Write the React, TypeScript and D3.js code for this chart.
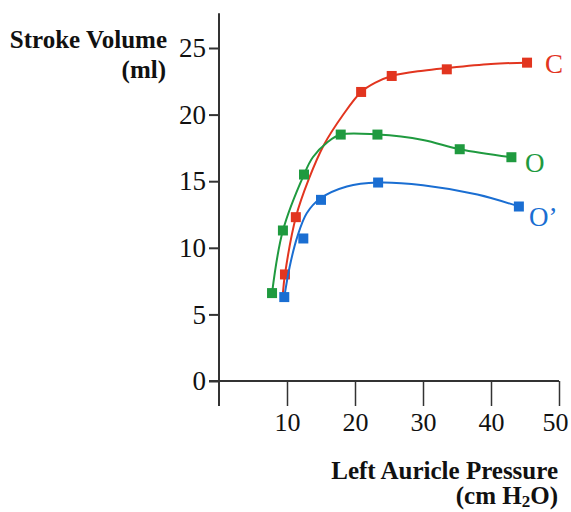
import React, { useEffect, useRef } from 'react';
import * as d3 from 'd3';

// measured points (x = left auricle pressure, y = stroke volume)
const cX = [9.7, 11.3, 20.9, 25.4, 33.5, 45.3];
const cY = [8.0, 12.3, 21.7, 22.9, 23.4, 23.9];
const oX = [7.8, 9.4, 12.5, 17.9, 23.3, 35.4, 43.0];
const oY = [6.6, 11.3, 15.5, 18.5, 18.5, 17.4, 16.8];
const opX = [9.6, 12.4, 15.0, 23.4, 44.1];
const opY = [6.3, 10.7, 13.6, 14.9, 13.1];

// fitted curves
const cFitX = [9.4, 9.7, 11.3, 13.2, 15.4, 18.2, 20.9, 23, 25.4, 30, 33.5, 40, 45.3];
const cFitY = [6.6, 8.0, 12.3, 15.15, 17.7, 19.95, 21.7, 22.4, 22.9, 23.3, 23.5, 23.8, 23.9];
const oFitX = [7.8, 9.4, 12.5, 13.8, 15.9, 17.9, 23.3, 30, 35.4, 43.0];
const oFitY = [6.6, 11.3, 15.5, 16.8, 17.9, 18.5, 18.5, 18.1, 17.4, 16.8];
const opFitX = [9.6, 10.4, 11.5, 12.9, 14.9, 18.8, 23.4, 30, 38, 44.1];
const opFitY = [6.3, 8.6, 10.8, 12.6, 13.7, 14.6, 14.9, 14.7, 14.0, 13.1];

const seriesNames = ['C', 'O', 'O\u2019'];
const yTicks = [0, 5, 10, 15, 20, 25];
const xTicks = [10, 20, 30, 40, 50];

const colors = ['#e2351f', '#1f9a3f', '#1a6ed2'];

export default function App() {
  const svgRef = useRef<SVGSVGElement>(null);

  const width = 571;
  const height = 512;
  const x = d3.scaleLinear().domain([0, 50]).range([219, 559]);
  const y = d3.scaleLinear().domain([0, 25]).range([381, 48]);

  const series = [
    { name: seriesNames[0], xs: cX, ys: cY, fx: cFitX, fy: cFitY, lx: 545, ly: 64 },
    { name: seriesNames[1], xs: oX, ys: oY, fx: oFitX, fy: oFitY, lx: 525, ly: 163 },
    { name: seriesNames[2], xs: opX, ys: opY, fx: opFitX, fy: opFitY, lx: 529, ly: 217 },
  ];

  useEffect(() => {
    const svg = d3.select(svgRef.current);
    svg.selectAll('*').remove();
    const font = '"Liberation Serif", "Times New Roman", serif';
    const axisColor = '#333';

    // y axis
    const gy = svg
      .append('g')
      .attr('transform', `translate(${x(0)},0)`)
      .call(d3.axisLeft(y).tickValues(yTicks).tickSize(10).tickPadding(3).tickSizeOuter(0));
    gy.select('.domain').remove();
    gy.selectAll('line').attr('stroke', axisColor).attr('stroke-width', 2);
    gy.selectAll('text').attr('font-family', font).attr('font-size', 27).attr('fill', '#111');

    // x axis
    const gx = svg
      .append('g')
      .attr('transform', `translate(0,${y(0)})`)
      .call(d3.axisBottom(x).tickValues(xTicks).tickSize(25).tickPadding(7).tickSizeOuter(0));
    gx.select('.domain').remove();
    gx.selectAll('line').attr('stroke', axisColor).attr('stroke-width', 1.5);
    gx.selectAll('text')
      .attr('font-family', font)
      .attr('font-size', 26)
      .attr('fill', '#111')
      .attr('dx', (d) => (d === 50 ? -4 : 0));

    // axis lines
    svg
      .append('line')
      .attr('x1', x(0))
      .attr('x2', x(0))
      .attr('y1', y(27.6))
      .attr('y2', y(0) + 25)
      .attr('stroke', axisColor)
      .attr('stroke-width', 2);
    svg
      .append('line')
      .attr('x1', x(0) - 10)
      .attr('x2', x(50))
      .attr('y1', y(0))
      .attr('y2', y(0))
      .attr('stroke', axisColor)
      .attr('stroke-width', 2);

    const line = d3
      .line<[number, number]>()
      .x((d) => x(d[0]))
      .y((d) => y(d[1]))
      .curve(d3.curveCatmullRom.alpha(0.5));

    series.forEach((s, i) => {
      const fit: [number, number][] = s.fx.map((v, j) => [v, s.fy[j]]);
      svg
        .append('path')
        .datum(fit)
        .attr('d', line)
        .attr('fill', 'none')
        .attr('stroke', colors[i])
        .attr('stroke-width', 2);

      svg
        .append('g')
        .selectAll('rect')
        .data(s.xs.map((v, j) => [v, s.ys[j]]))
        .enter()
        .append('rect')
        .attr('x', (d) => x(d[0]) - 5)
        .attr('y', (d) => y(d[1]) - 5)
        .attr('width', 10)
        .attr('height', 10)
        .attr('fill', colors[i]);

      svg
        .append('text')
        .attr('x', s.lx)
        .attr('y', s.ly)
        .attr('dy', '0.35em')
        .attr('font-family', font)
        .attr('font-size', 27)
        .attr('fill', colors[i])
        .text(s.name);
    });

    // axis titles
    const titles = [
      { t: 'Stroke Volume', x: 167, y: 48 },
      { t: '(ml)', x: 166, y: 78 },
      { t: 'Left Auricle Pressure', x: 558, y: 479 },
    ];
    titles.forEach((d) => {
      svg
        .append('text')
        .attr('x', d.x)
        .attr('y', d.y)
        .attr('text-anchor', 'end')
        .attr('font-family', font)
        .attr('font-size', 25)
        .attr('font-weight', 'bold')
        .attr('fill', '#111')
        .text(d.t);
    });
    const unit = svg
      .append('text')
      .attr('x', 558)
      .attr('y', 504)
      .attr('text-anchor', 'end')
      .attr('font-family', font)
      .attr('font-size', 25)
      .attr('font-weight', 'bold')
      .attr('fill', '#111');
    unit.append('tspan').text('(cm H');
    unit.append('tspan').attr('font-size', 17).attr('dy', 3).text('2');
    unit.append('tspan').attr('dy', -3).text('O)');
  }, []);

  return (
    <svg
      ref={svgRef}
      width={width}
      height={height}
      style={{ position: 'absolute', left: 0, top: 0, background: '#fff' }}
    />
  );
}
